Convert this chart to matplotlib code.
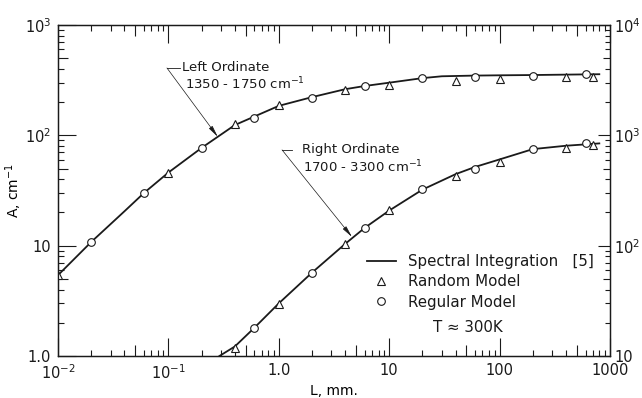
import numpy as np
import matplotlib
matplotlib.use("Agg")
import matplotlib.pyplot as plt

# Left ordinate band (1350-1750 cm^-1)
left_curve_L = [0.01, 0.02, 0.04, 0.06, 0.1, 0.2, 0.4, 0.6, 1, 2, 4, 6, 10, 20, 30, 60, 100, 200, 400, 800]
left_curve_A = [5.4, 10.8, 20.5, 30, 46, 77, 124, 148, 185, 222, 262, 280, 300, 330, 343, 348, 350, 352, 355, 358]
left_rand_L = [0.01, 0.1, 0.4, 1, 4, 10, 40, 100, 400, 700]
left_rand_A = [5.4, 46, 126, 189, 258, 285, 311, 324, 338, 338]
left_reg_L = [0.02, 0.06, 0.2, 0.6, 2, 6, 20, 60, 200, 600]
left_reg_A = [10.8, 30, 77, 144, 218, 280, 331, 338, 345, 360]

# Right ordinate band (1700-3300 cm^-1)
right_curve_L = [0.29, 0.4, 0.6, 1, 2, 4, 6, 10, 20, 40, 60, 100, 200, 400, 800]
right_curve_A = [10, 12.2, 18, 30, 57, 104, 145, 208, 322, 445, 517, 605, 750, 805, 845]
right_rand_L = [0.4, 1, 4, 10, 40, 100, 400, 700]
right_rand_A = [11.8, 29.6, 103, 211, 428, 574, 769, 818]
right_reg_L = [0.6, 2, 6, 20, 60, 200, 600]
right_reg_A = [17.9, 56.5, 145, 327, 496, 753, 853]

x_ticks = [1e-2, 1e-1, 1, 10, 100, 1000]
x_labels = ["$10^{-2}$", "$10^{-1}$", "1.0", "10", "100", "1000"]
yl_ticks = [1, 10, 100, 1000]
yl_labels = ["1.0", "10", "$10^2$", "$10^3$"]
yr_ticks = [10, 100, 1000, 10000]
yr_labels = ["10", "$10^2$", "$10^3$", "$10^4$"]

ink = "#1a1a1a"
plt.rcParams["font.family"] = ["DejaVu Sans"]
plt.rcParams["mathtext.fontset"] = "dejavusans"
plt.rcParams["text.color"] = ink
plt.rcParams["axes.edgecolor"] = ink
plt.rcParams["xtick.color"] = ink
plt.rcParams["ytick.color"] = ink

fig = plt.figure(figsize=(6.42, 3.98), dpi=100)
ax = fig.add_axes([58 / 642, 1 - 356 / 398, 552 / 642, 331 / 398])
ax.set_xscale("log")
ax.set_yscale("log")
ax.set_xlim(1e-2, 1e3)
ax.set_ylim(1, 1e3)

ax2 = ax.twinx()
ax2.set_yscale("log")
ax2.set_ylim(10, 1e4)


def minor_locs(lo, hi):
    locs = []
    for e in range(lo, hi):
        for s in range(2, 10):
            locs.append(s * 10.0 ** e)
    return locs


def set_five_long(axis, locs, length):
    ticks = axis.get_minor_ticks(len(locs))
    for t, v in zip(ticks, locs):
        m = v / 10 ** np.floor(np.log10(v) + 1e-9)
        if abs(m - 5) < 1e-6:
            t.tick1line.set_markersize(length)
            t.tick2line.set_markersize(length)


xm = minor_locs(-2, 3)
ylm = minor_locs(0, 3)
yrm = minor_locs(1, 4)

ax.set_xticks(x_ticks, x_labels)
ax.set_xticks(xm, minor=True)
ax.set_xticklabels([], minor=True)
ax.set_yticks(yl_ticks, yl_labels)
ax.set_yticks(ylm, minor=True)
ax.set_yticklabels([], minor=True)
ax2.set_yticks(yr_ticks, yr_labels)
ax2.set_yticks(yrm, minor=True)
ax2.set_yticklabels([], minor=True)

ax.tick_params(which="both", direction="in", top=True, right=False, labelsize=10.5, width=0.8, pad=5)
ax.tick_params(which="major", length=13)
ax.tick_params(which="minor", length=4.5)
ax2.tick_params(which="both", direction="in", labelsize=10.5, width=0.8, pad=3)
ax2.tick_params(which="major", length=9)
ax2.tick_params(which="minor", length=3.5)
set_five_long(ax.xaxis, xm, 8)
set_five_long(ax.yaxis, ylm, 7.5)
set_five_long(ax2.yaxis, yrm, 5)

for a in (ax, ax2):
    for sp in a.spines.values():
        sp.set_linewidth(0.9)

# curves and model points
mk = dict(linestyle="none", markerfacecolor="white", markeredgecolor=ink, markeredgewidth=0.8, zorder=3)
ax.plot(left_curve_L, left_curve_A, color=ink, lw=1.3)
ax.plot(left_rand_L, left_rand_A, marker="^", markersize=5.5, **mk)
ax.plot(left_reg_L, left_reg_A, marker="o", markersize=5.5, **mk)
ax2.plot(right_curve_L, right_curve_A, color=ink, lw=1.3)
ax2.plot(right_rand_L, right_rand_A, marker="^", markersize=5.5, **mk)
ax2.plot(right_reg_L, right_reg_A, marker="o", markersize=5.5, **mk)

# annotations: pointer lines from a short dash to the curve
arr = dict(arrowstyle="-|>,head_length=0.7,head_width=0.13", color=ink, lw=0.5,
           shrinkA=0, shrinkB=0)
ax.annotate("", xy=(0.28, 97), xytext=(0.097, 408), arrowprops=arr)
ax.plot([0.097, 0.127], [408, 408], color=ink, lw=0.6)
ax.text(0.134, 408, "Left Ordinate", ha="left", va="center", fontsize=9.5)
ax.text(0.141, 292, "1350 - 1750 cm$^{-1}$", ha="left", va="center", fontsize=9.5)
ax2.annotate("", xy=(4.6, 120), xytext=(1.07, 738), arrowprops=arr)
ax2.plot([1.07, 1.32], [738, 738], color=ink, lw=0.6)
ax2.text(1.62, 738, "Right Ordinate", ha="left", va="center", fontsize=9.5)
ax2.text(1.66, 516, "1700 - 3300 cm$^{-1}$", ha="left", va="center", fontsize=9.5)

# legend
h_line, = ax.plot([], [], color=ink, lw=1.3)
h_tri, = ax.plot([], [], marker="^", markersize=5.5, **mk)
h_circ, = ax.plot([], [], marker="o", markersize=5.5, **mk)
ax.legend([h_line, h_tri, h_circ],
          ["Spectral Integration   [5]", "Random Model", "Regular Model"],
          loc="upper left", bbox_to_anchor=(0.56, 0.308), frameon=False,
          borderpad=0, borderaxespad=0, handlelength=1.9, handletextpad=0.8,
          labelspacing=0.35, fontsize=10.8)
ax.text(0.679, 0.085, "T \u2248 300K", transform=ax.transAxes, ha="left", va="center", fontsize=10.8)

ax.set_xlabel("L, mm.", fontsize=10, labelpad=2)
ax.set_ylabel("A, cm$^{-1}$", fontsize=10)
ax.yaxis.set_label_coords(-0.062, 0.5)

fig.savefig("out.png", dpi=100)
